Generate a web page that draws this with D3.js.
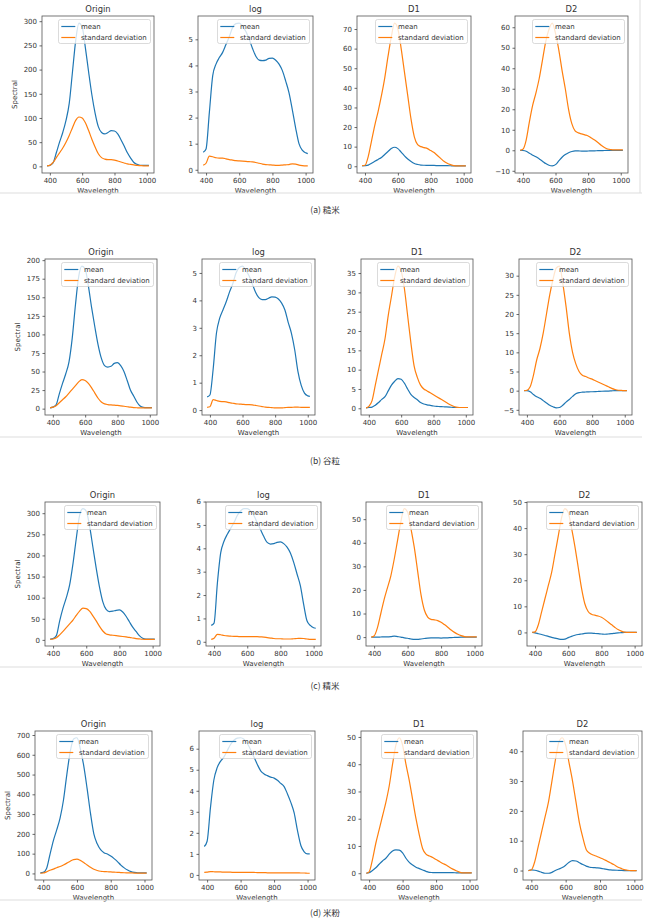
<!DOCTYPE html>
<html>
<head>
<meta charset="utf-8">
<script src="https://cdn.jsdelivr.net/npm/d3@7"></script>
<style>
    body { margin: 0; background: #fff; }
    svg { display: block; }
</style>
</head>
<body>
<div id="chart"></div>
<script>
(function () {
    'use strict';

    // wavelength grid (nm) shared by every panel
    var wavelength = [383, 400, 420, 440, 460, 480, 500, 520, 540, 560, 580, 600, 620, 640, 660, 680, 700,
        720, 740, 760, 780, 800, 820, 840, 860, 880, 900, 920, 940, 960, 980, 1000, 1013];

    var panelTitles = ['Origin', 'log', 'D1', 'D2'];
    var seriesNames = ['mean', 'standard deviation'];
    var xTicks = [400, 600, 800, 1000];
    var captions = ['(a) 糙米', '(b) 谷粒', '(c) 精米', '(d) 米粉'];

    // (a) 糙米
    var aOriginMean = [1, 2, 7, 28, 50, 70, 95, 130, 195, 260, 296, 288, 245, 195, 148, 110, 82, 70, 67, 70, 74, 73, 67, 55, 42, 28, 17, 8, 4, 2, 2, 2, 2];
    var aOriginStd = [1, 2, 8, 18, 28, 38, 50, 64, 80, 95, 102, 100, 90, 74, 56, 40, 26, 18, 15, 14, 14, 13, 11, 9, 7, 5, 4, 3, 2, 1.5, 1, 1, 1];
    var aLogMean = [0.67, 0.8, 2.2, 3.6, 4.05, 4.3, 4.5, 4.8, 5.1, 5.45, 5.6, 5.62, 5.5, 5.3, 5.0, 4.65, 4.35, 4.2, 4.18, 4.2, 4.27, 4.28, 4.2, 4.05, 3.8, 3.4, 2.95, 2.3, 1.6, 1.0, 0.75, 0.65, 0.62];
    var aLogStd = [0.18, 0.25, 0.52, 0.5, 0.46, 0.45, 0.45, 0.42, 0.39, 0.37, 0.35, 0.34, 0.33, 0.32, 0.31, 0.3, 0.28, 0.25, 0.22, 0.2, 0.19, 0.18, 0.17, 0.17, 0.18, 0.19, 0.2, 0.23, 0.22, 0.18, 0.16, 0.15, 0.15];
    var aD1Mean = [0.2, 0.3, 0.6, 1.5, 2.5, 3.5, 4.5, 6, 7.5, 9, 9.7, 9, 7.2, 5.3, 3.7, 2.4, 1.4, 0.9, 0.6, 0.5, 0.45, 0.4, 0.4, 0.35, 0.3, 0.3, 0.3, 0.25, 0.2, 0.2, 0.2, 0.2, 0.2];
    var aD1Std = [0.3, 0.5, 5, 13, 21, 28, 36, 45, 56, 66, 73, 70, 60, 48, 36, 24, 15, 11, 10, 9.5, 9, 8, 7, 5.5, 4, 2.5, 1.5, 0.8, 0.3, 0.2, 0.2, 0.2, 0.2];
    var aD2Mean = [0, -0.1, -0.5, -1.4, -2.4, -3.2, -4.2, -5.3, -6.5, -7.3, -7.6, -7, -5.2, -3.4, -2.1, -1.2, -0.6, -0.3, -0.3, -0.4, -0.4, -0.35, -0.3, -0.25, -0.2, -0.15, -0.1, -0.05, 0, 0, 0, 0, 0];
    var aD2Std = [0, 0.5, 5, 14, 22, 28, 35, 44, 53, 59, 62, 57, 49, 39, 30, 20, 13, 9.5, 8.5, 8, 7.5, 7, 6, 5, 3.8, 2.5, 1.4, 0.6, 0.3, 0.2, 0.2, 0.2, 0.2];

    // (b) 谷粒
    var bOriginMean = [1, 2, 5, 20, 34, 47, 63, 95, 140, 178, 192, 188, 165, 136, 110, 86, 68, 58, 56, 57, 61, 62, 58, 50, 38, 25, 17, 9, 3.5, 1.8, 1.5, 1.5, 1.5];
    var bOriginStd = [1, 2, 4, 8, 12, 16, 21, 26, 31, 36, 39, 38, 34, 28, 21, 14, 9, 6.5, 5.5, 5, 4.7, 4.3, 3.8, 3.2, 2.6, 2, 1.5, 1.2, 1, 1, 1, 1, 1];
    var bLogMean = [0.48, 0.55, 1.5, 2.8, 3.35, 3.65, 3.95, 4.3, 4.6, 5.0, 5.2, 5.25, 5.1, 4.9, 4.6, 4.3, 4.1, 4.03, 4.03, 4.08, 4.13, 4.12, 4.05, 3.9, 3.65, 3.2, 2.8, 2.2, 1.4, 0.9, 0.62, 0.52, 0.5];
    var bLogStd = [0.1, 0.12, 0.38, 0.35, 0.32, 0.31, 0.3, 0.27, 0.25, 0.23, 0.22, 0.21, 0.2, 0.2, 0.19, 0.17, 0.15, 0.13, 0.11, 0.1, 0.09, 0.08, 0.08, 0.08, 0.09, 0.1, 0.1, 0.11, 0.11, 0.1, 0.1, 0.1, 0.1];
    var bD1Mean = [0.1, 0.2, 0.3, 0.8, 1.5, 2.3, 3, 4.5, 6, 7, 7.7, 7.5, 6.5, 5, 3.6, 2.8, 2.2, 1.5, 1.1, 0.9, 0.75, 0.6, 0.5, 0.45, 0.4, 0.35, 0.3, 0.25, 0.2, 0.2, 0.2, 0.2, 0.2];
    var bD1Std = [0.1, 0.5, 2, 6, 10, 14, 18, 24, 29, 34, 36.8, 35.5, 31, 24, 17, 11, 8, 6, 5, 4.5, 4, 3.5, 3, 2.5, 2, 1.5, 1, 0.6, 0.3, 0.2, 0.2, 0.2, 0.2];
    var bD2Mean = [0, 0, -0.3, -1, -1.6, -2, -2.6, -3.2, -3.8, -4.2, -4.5, -4.4, -3.8, -3, -2.3, -1.5, -0.8, -0.5, -0.4, -0.35, -0.3, -0.28, -0.25, -0.2, -0.15, -0.12, -0.1, -0.05, 0, 0, 0, 0, 0];
    var bD2Std = [0, 0.1, 1, 4, 8, 11, 15, 20, 25, 29, 32, 32.5, 28, 22, 15, 10, 7, 5, 4, 3.7, 3.3, 3, 2.6, 2.2, 1.8, 1.4, 1, 0.6, 0.3, 0.1, 0.05, 0, 0];

    // (c) 精米
    var cOriginMean = [2, 3, 10, 45, 75, 100, 130, 180, 240, 295, 311, 305, 270, 220, 170, 125, 90, 72, 67, 68, 70, 71, 66, 56, 43, 30, 20, 10, 4, 2, 2, 2, 2];
    var cOriginStd = [1, 2, 5, 12, 20, 29, 38, 47, 58, 68, 75, 74, 68, 57, 45, 32, 21, 14, 12, 11, 10, 9, 8, 7, 6, 4.5, 3, 2.2, 1.5, 1.2, 1, 1, 1];
    var cLogMean = [0.7, 0.8, 2.5, 3.8, 4.3, 4.6, 4.85, 5.1, 5.4, 5.6, 5.7, 5.7, 5.6, 5.4, 5.1, 4.8, 4.5, 4.25, 4.18, 4.2, 4.25, 4.27, 4.2, 4.05, 3.8, 3.4, 2.9, 2.4, 1.6, 0.9, 0.7, 0.6, 0.58];
    var cLogStd = [0.1, 0.15, 0.32, 0.3, 0.27, 0.25, 0.24, 0.23, 0.23, 0.22, 0.22, 0.22, 0.22, 0.22, 0.22, 0.21, 0.2, 0.18, 0.16, 0.14, 0.13, 0.13, 0.12, 0.12, 0.12, 0.13, 0.14, 0.15, 0.14, 0.12, 0.1, 0.1, 0.1];
    var cD1Mean = [0, 0, 0, 0.05, 0.1, 0.1, 0.2, 0.4, 0.2, 0, -0.3, -0.5, -0.8, -1, -1, -0.8, -0.6, -0.4, -0.3, -0.3, -0.35, -0.4, -0.35, -0.3, -0.2, -0.15, -0.1, -0.05, 0, 0, 0, 0, 0];
    var cD1Std = [0, 0.5, 4, 10, 16, 21, 26, 33, 41, 49, 54.5, 53, 46, 38, 28, 18, 11.5, 8.5, 7.5, 7.3, 7, 6.3, 5.3, 4.2, 3, 2, 1.2, 0.6, 0.2, 0.1, 0.1, 0.1, 0.1];
    var cD2Mean = [0, -0.2, -0.5, -0.8, -1.2, -1.5, -1.9, -2.2, -2.5, -2.7, -2.6, -2, -1.5, -1.1, -0.8, -0.6, -0.4, -0.3, -0.3, -0.4, -0.5, -0.6, -0.7, -0.6, -0.5, -0.35, -0.2, -0.1, 0, 0, 0, 0, 0];
    var cD2Std = [0, 0.2, 3, 8, 13, 18, 23, 30, 37, 44, 47.5, 46, 40, 33, 25, 17, 11, 8, 7, 6.6, 6.3, 5.8, 5, 4, 3, 2, 1.1, 0.5, 0.1, 0, 0, 0, 0];

    // (d) 米粉
    var dOriginMean = [3, 5, 25, 95, 165, 220, 280, 370, 500, 615, 680, 686, 630, 545, 430, 305, 200, 150, 120, 105, 98, 88, 75, 60, 42, 28, 17, 9, 5, 3, 3, 3, 3];
    var dOriginStd = [1, 2, 8, 16, 22, 29, 35, 43, 52, 62, 70, 72, 66, 55, 43, 31, 21, 15, 11, 9.5, 8.5, 7.5, 6.5, 5.5, 4.5, 3.5, 3, 2.5, 2, 2, 2, 2, 2];
    var dLogMean = [1.35, 1.6, 3.2, 4.5, 5.1, 5.4, 5.6, 5.9, 6.2, 6.4, 6.5, 6.52, 6.45, 6.25, 5.95, 5.6, 5.25, 4.95, 4.8, 4.72, 4.65, 4.6, 4.5, 4.35, 4.2, 3.85, 3.45, 2.95, 2.1, 1.4, 1.1, 1.0, 1.0];
    var dLogStd = [0.12, 0.13, 0.16, 0.15, 0.14, 0.14, 0.13, 0.13, 0.13, 0.12, 0.12, 0.12, 0.12, 0.12, 0.12, 0.12, 0.11, 0.11, 0.11, 0.1, 0.1, 0.1, 0.1, 0.1, 0.1, 0.1, 0.1, 0.1, 0.1, 0.09, 0.09, 0.08, 0.08];
    var dD1Mean = [0, 0.2, 1, 2, 3.3, 4.5, 5.5, 7, 8.2, 8.6, 8.5, 7.5, 5.5, 4, 3, 2.2, 1.7, 1.2, 0.7, 0.3, 0.25, 0.2, 0.2, 0.2, 0.2, 0.2, 0.2, 0.15, 0.1, 0.1, 0.1, 0.1, 0.1];
    var dD1Std = [0, 0.5, 5, 11, 16, 21, 26, 32, 40, 47, 49.7, 47, 40, 34, 27, 20, 14, 9, 7, 6.3, 5.8, 5, 4.3, 3.6, 3, 2.2, 1.5, 0.9, 0.4, 0.1, 0.1, 0.1, 0.1];
    var dD2Mean = [0, 0.2, 0.1, -0.2, -0.6, -0.9, -0.9, -0.6, 0, 0.5, 1, 1.8, 2.8, 3.3, 3.2, 2.6, 2, 1.5, 1.1, 1, 0.9, 0.8, 0.6, 0.4, 0.2, 0.15, 0.1, 0.05, 0, 0, 0, 0, 0];
    var dD2Std = [0, 0.2, 3, 8, 13, 18, 23, 30, 37, 43, 44.5, 42, 36, 30, 23, 16, 11, 7, 5.8, 5.2, 4.8, 4.3, 3.8, 3.2, 2.6, 2, 1.3, 0.8, 0.3, 0.1, 0, 0, 0];

    // y tick values per panel (Origin, log, D1, D2)
    var aYTicks = [[0, 50, 100, 150, 200, 250, 300], [0, 1, 2, 3, 4, 5], [0, 10, 20, 30, 40, 50, 60, 70], [-10, 0, 10, 20, 30, 40, 50, 60]];
    var bYTicks = [[0, 25, 50, 75, 100, 125, 150, 175, 200], [0, 1, 2, 3, 4, 5], [0, 5, 10, 15, 20, 25, 30, 35], [-5, 0, 5, 10, 15, 20, 25, 30]];
    var cYTicks = [[0, 50, 100, 150, 200, 250, 300], [0, 1, 2, 3, 4, 5, 6], [0, 10, 20, 30, 40, 50], [0, 10, 20, 30, 40, 50]];
    var dYTicks = [[0, 100, 200, 300, 400, 500, 600, 700], [0, 1, 2, 3, 4, 5, 6], [0, 10, 20, 30, 40, 50], [0, 10, 20, 30, 40]];

    var colors = ['#1f77b4', '#ff7f0e'];
    var font = '"DejaVu Sans", sans-serif';
    var tickFmt = d3.format('d');

    // page layout: frame boxes of each row, caption and divider positions
    var rows = [
        { top: 16, bottom: 173, lefts: [42, 198, 357, 515], rights: [154, 313, 471, 628], captionY: 213, lineY: 193,
            series: [[aOriginMean, aOriginStd], [aLogMean, aLogStd], [aD1Mean, aD1Std], [aD2Mean, aD2Std]], ticks: aYTicks },
        { top: 259, bottom: 415, lefts: [45, 202, 361, 519], rights: [157, 315, 473, 632], captionY: 464, lineY: 437,
            series: [[bOriginMean, bOriginStd], [bLogMean, bLogStd], [bD1Mean, bD1Std], [bD2Mean, bD2Std]], ticks: bYTicks },
        { top: 502, bottom: 646, lefts: [45, 206, 366, 527], rights: [160, 321, 482, 642], captionY: 689, lineY: 667,
            series: [[cOriginMean, cOriginStd], [cLogMean, cLogStd], [cD1Mean, cD1Std], [cD2Mean, cD2Std]], ticks: cYTicks },
        { top: 731, bottom: 880, lefts: [35, 199, 361, 523], rights: [152, 315, 477, 642], captionY: 916, lineY: 900,
            series: [[dOriginMean, dOriginStd], [dLogMean, dLogStd], [dD1Mean, dD1Std], [dD2Mean, dD2Std]], ticks: dYTicks }
    ];

    var svg = d3.select('#chart').append('svg')
        .attr('width', 650)
        .attr('height', 924)
        .style('background-color', '#fff');

    // matplotlib style 5% margins
    function padded(ext) {
        var m = (ext[1] - ext[0]) * 0.05;
        return [ext[0] - m, ext[1] + m];
    }

    var xDomain = padded(d3.extent(wavelength));

    function styleAxis(g) {
        g.select('.domain').remove();
        g.selectAll('.tick line').attr('stroke', '#444').attr('stroke-width', 0.8);
        g.selectAll('.tick text')
            .attr('fill', '#333')
            .style('font-size', '7px')
            .style('font-family', font);
    }

    function drawPanel(row, r, p) {
        var left = row.lefts[p], right = row.rights[p];
        var top = row.top, bottom = row.bottom;
        var data = row.series[p];

        var x = d3.scaleLinear().domain(xDomain).range([left, right]);
        var allVals = data[0].concat(data[1]);
        var y = d3.scaleLinear().domain(padded(d3.extent(allVals))).range([bottom, top]);

        var g = svg.append('g').attr('class', 'panel r' + r + 'p' + p);

        var clipId = 'clip' + r + p;
        g.append('clipPath').attr('id', clipId)
            .append('rect')
            .attr('x', left).attr('y', top)
            .attr('width', right - left).attr('height', bottom - top);

        var line = d3.line()
            .x(function (d, i) { return x(wavelength[i]); })
            .y(function (d) { return y(d); })
            .curve(d3.curveMonotoneX);

        g.append('g').attr('clip-path', 'url(#' + clipId + ')')
            .selectAll('path.series')
            .data(data)
            .enter()
            .append('path')
            .attr('class', 'series')
            .attr('d', line)
            .attr('fill', 'none')
            .attr('stroke', function (d, i) { return colors[i]; })
            .attr('stroke-width', 1.2)
            .attr('stroke-linejoin', 'round');

        // frame
        g.append('rect')
            .attr('x', left).attr('y', top)
            .attr('width', right - left).attr('height', bottom - top)
            .attr('fill', 'none')
            .attr('stroke', '#555')
            .attr('stroke-width', 0.8);

        g.append('g')
            .attr('transform', 'translate(0,' + bottom + ')')
            .call(d3.axisBottom(x).tickValues(xTicks).tickFormat(tickFmt).tickSize(2.5).tickPadding(2.2))
            .call(styleAxis);

        g.append('g')
            .attr('transform', 'translate(' + left + ',0)')
            .call(d3.axisLeft(y).tickValues(row.ticks[p]).tickFormat(tickFmt).tickSize(2.5).tickPadding(2.5))
            .call(styleAxis);

        g.append('text')
            .attr('x', (left + right) / 2)
            .attr('y', top - 4)
            .attr('text-anchor', 'middle')
            .attr('fill', '#333')
            .style('font-size', '8.4px')
            .style('font-family', font)
            .text(panelTitles[p]);

        g.append('text')
            .attr('x', (left + right) / 2)
            .attr('y', bottom + 19.5)
            .attr('text-anchor', 'middle')
            .attr('fill', '#333')
            .style('font-size', '7px')
            .style('font-family', font)
            .text('Wavelength');

        if (p === 0) {
            g.append('text')
                .attr('transform', 'translate(' + (left - 27) + ',' + ((top + bottom) / 2) + ') rotate(-90)')
                .attr('text-anchor', 'middle')
                .attr('dominant-baseline', 'central')
                .attr('fill', '#333')
                .style('font-size', '7px')
                .style('font-family', font)
                .text('Spectral');
        }

        // legend, upper right
        var legW = 92, legH = 24;
        var lx = right - 3.5 - legW, ly = top + 3.5;
        var leg = g.append('g').attr('class', 'legend');
        leg.append('rect')
            .attr('x', lx).attr('y', ly)
            .attr('width', legW).attr('height', legH)
            .attr('rx', 2)
            .attr('fill', '#fff')
            .attr('fill-opacity', 0.8)
            .attr('stroke', '#ccc')
            .attr('stroke-width', 0.7);

        var item = leg.selectAll('g.item')
            .data(seriesNames)
            .enter()
            .append('g')
            .attr('class', 'item')
            .attr('transform', function (d, i) { return 'translate(' + lx + ',' + (ly + 7 + i * 11) + ')'; });

        item.append('line')
            .attr('x1', 2.8).attr('x2', 16.8)
            .attr('stroke', function (d, i) { return colors[i]; })
            .attr('stroke-width', 1.2);

        item.append('text')
            .attr('x', 22.4)
            .attr('dy', '0.35em')
            .attr('fill', '#333')
            .style('font-size', '7px')
            .style('font-family', font)
            .text(function (d) { return d; });
    }

    rows.forEach(function (row, r) {
        for (var p = 0; p < 4; p++) {
            drawPanel(row, r, p);
        }

        // light divider under each block of panels
        svg.append('line')
            .attr('x1', 0).attr('x2', 642)
            .attr('y1', row.lineY).attr('y2', row.lineY)
            .attr('stroke', '#ddd')
            .attr('stroke-width', 1);

        svg.append('text')
            .attr('x', 325)
            .attr('y', row.captionY)
            .attr('text-anchor', 'middle')
            .attr('fill', '#333')
            .style('font-size', '8.5px')
            .style('font-family', '"Noto Sans CJK SC", "DejaVu Sans", sans-serif')
            .text(captions[r]);
    });

    // right edge of the first block
    svg.append('line')
        .attr('x1', 640).attr('x2', 640)
        .attr('y1', 0).attr('y2', rows[0].lineY)
        .attr('stroke', '#ddd')
        .attr('stroke-width', 1);
})();
</script>
</body>
</html>
